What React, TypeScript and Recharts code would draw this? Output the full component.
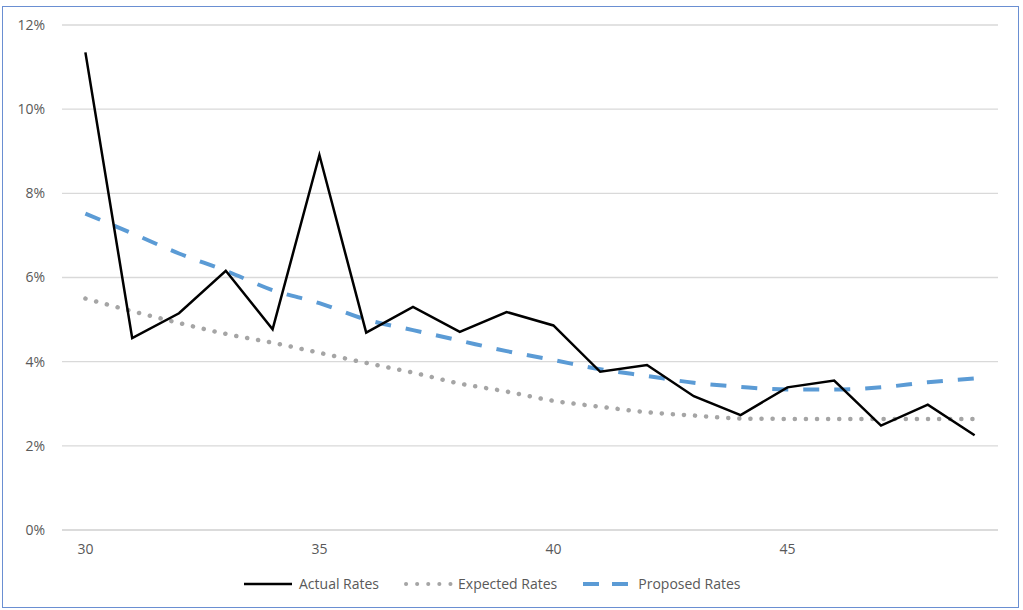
import { LineChart, Line, XAxis, YAxis, CartesianGrid, Legend } from 'recharts'

const ages = [30, 31, 32, 33, 34, 35, 36, 37, 38, 39, 40, 41, 42, 43, 44, 45, 46, 47, 48, 49]
const actualRates = [11.35, 4.56, 5.15, 6.16, 4.77, 8.91, 4.69, 5.30, 4.71, 5.18, 4.86, 3.76, 3.92, 3.18, 2.73, 3.39, 3.55, 2.48, 2.98, 2.25]
const expectedRates = [5.50, 5.20, 4.92, 4.66, 4.45, 4.21, 3.97, 3.74, 3.48, 3.29, 3.07, 2.93, 2.80, 2.72, 2.65, 2.64, 2.64, 2.64, 2.64, 2.64]
const proposedRates = [7.52, 7.05, 6.57, 6.16, 5.70, 5.39, 5.00, 4.75, 4.50, 4.25, 4.04, 3.82, 3.66, 3.50, 3.40, 3.34, 3.34, 3.39, 3.51, 3.60]
const xTicks = [30, 35, 40, 45]
const yTicks = [0, 2, 4, 6, 8, 10, 12]

const BLACK = '#000000'
const GRAY_DOT = '#a5a5a5'
const BLUE = '#5b9bd5'
const TEXT = '#595959'
const GRID = '#d9d9d9'
const FONT = '"Open Sans", "Liberation Sans", sans-serif'

const data = ages.map((age, i) => ({
  age,
  actual: actualRates[i],
  expected: expectedRates[i],
  proposed: proposedRates[i],
}))

function LegendBox() {
  const item = (sample: React.ReactNode, label: string, gap: number) => (
    <div style={{ display: 'flex', alignItems: 'center', marginRight: gap }}>
      <svg width={50} height={10} style={{ marginRight: 5 }}>{sample}</svg>
      <span>{label}</span>
    </div>
  )
  return (
    <div style={{ display: 'flex', paddingLeft: 244, fontFamily: FONT, fontSize: 14, color: TEXT, lineHeight: '20px' }}>
      {item(<line x1={0} y1={5} x2={48} y2={5} stroke={BLACK} strokeWidth={2.5} />, 'Actual Rates', 24)}
      {item(<line x1={3} y1={5} x2={48} y2={5} stroke={GRAY_DOT} strokeWidth={4} strokeLinecap="round" strokeDasharray="0.1 11" />, 'Expected Rates', 26)}
      {item(<line x1={0} y1={5} x2={46} y2={5} stroke={BLUE} strokeWidth={4} strokeDasharray="16 13" />, 'Proposed Rates', 0)}
    </div>
  )
}

export default function App() {
  return (
    <div style={{ position: 'absolute', left: 0, top: 0, width: 1023, height: 610, background: '#fff' }}>
      <div style={{ position: 'absolute', left: 2, top: 6, width: 1015, height: 600, border: '1.5px solid #6a8fd2' }} />
      <LineChart
        width={1023}
        height={610}
        data={data}
        margin={{ top: 25, right: 25, left: 0, bottom: 16 }}
        style={{ position: 'absolute', left: 0, top: 0 }}
      >
        <CartesianGrid vertical={false} stroke={GRID} strokeWidth={1.3} />
        <XAxis
          dataKey="age"
          type="number"
          domain={[29.5, 49.5]}
          ticks={xTicks}
          height={44}
          tickSize={0}
          tickMargin={14}
          axisLine={{ stroke: GRID, strokeWidth: 1.3 }}
          tick={{ fontSize: 14, fill: TEXT, fontFamily: FONT }}
        />
        <YAxis
          domain={[0, 12]}
          ticks={yTicks}
          width={62}
          tickSize={0}
          tickMargin={17}
          axisLine={false}
          tickFormatter={(v: number) => `${v}%`}
          tick={{ fontSize: 14, fill: TEXT, fontFamily: FONT }}
        />
        <Legend verticalAlign="bottom" height={20} content={() => <LegendBox />} wrapperStyle={{ left: 0, width: 1023 }} />
        <Line dataKey="expected" stroke={GRAY_DOT} strokeWidth={4.5} strokeLinecap="round" strokeDasharray="0.1 11" dot={false} isAnimationActive={false} type="monotone" />
        <Line dataKey="proposed" stroke={BLUE} strokeWidth={4} strokeDasharray="16 15" dot={false} isAnimationActive={false} type="monotone" />
        <Line dataKey="actual" stroke={BLACK} strokeWidth={2.5} dot={false} isAnimationActive={false} type="linear" />
      </LineChart>
    </div>
  )
}
